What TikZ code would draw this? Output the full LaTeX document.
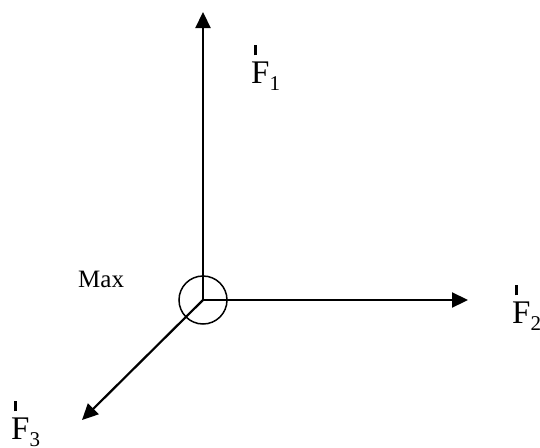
\documentclass[tikz,border=0pt]{standalone}
\usepackage{fontspec}
\setmainfont{Liberation Serif}
\usetikzlibrary{arrows.meta}
\newcommand{\vecFlabel}[1]{\makebox[0pt][l]{\hspace{0.09em}\rule[0.84em]{2.4pt}{0.32em}}F\raisebox{-0.24em}{\fontsize{21}{21}\selectfont #1}}
\tikzset{
  x=1pt, y=-1pt,
  force/.style={line width=2.2pt, -{Triangle[length=16pt, width=15pt]}},
  flabel/.style={anchor=base west, inner sep=0pt, font=\fontsize{33}{33}\selectfont},
  maxlabel/.style={anchor=base west, inner sep=0pt, font=\fontsize{25}{25}\selectfont},
}
\begin{document}
\begin{tikzpicture}
\useasboundingbox (0,0) rectangle (540,447);
\coordinate (o) at (203,300);
\coordinate (t1) at (203,12);
\coordinate (t2) at (468,300);
\coordinate (t3) at (82,420);
\draw[force] (o) -- (t1);
\draw[force] (o) -- (t2);
\draw[force] (o) -- (t3);
\node[circle, draw, line width=1.5pt, minimum size=48pt, inner sep=0pt] (c) at (o) {};
\node[flabel] (f1) at (251,83) {\vecFlabel{1}};
\node[flabel] (f2) at (512,323) {\vecFlabel{2}};
\node[flabel] (f3) at (11,439) {\vecFlabel{3}};
\node[maxlabel] (max) at (78,287) {Max};
\end{tikzpicture}
\end{document}
